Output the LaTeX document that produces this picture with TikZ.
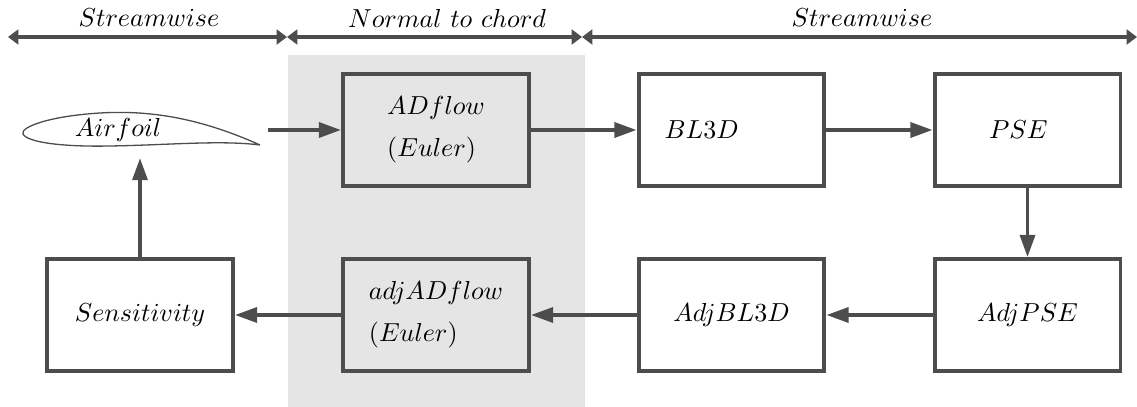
\documentclass[tikz,border=0pt]{standalone}
\usetikzlibrary{arrows.meta}
\definecolor{linegray}{RGB}{77,77,77}
\definecolor{bandgray}{RGB}{229,229,229}
\begin{document}
\begin{tikzpicture}[x=0.0135cm,y=-0.0135cm]
\tikzset{blockbox/.style={draw=linegray, line width=1.5pt, minimum width=2.51cm, minimum height=1.51cm, inner sep=0pt, align=left},
flowarrow/.style={draw=linegray, line width=1.5pt, -{Triangle[length=0.3cm,width=0.2cm]}},
spanarrow/.style={draw=linegray, line width=1.8pt, {Triangle[length=0.14cm,width=0.2cm]}-{Triangle[length=0.14cm,width=0.2cm]}}}
\useasboundingbox (0,0) rectangle (1137,407);
\fill [bandgray] (288,55) rectangle (585,407);
\coordinate (s0) at (8,37);
\coordinate (s1) at (287,37);
\coordinate (s2) at (582,37);
\coordinate (s3) at (1137,37);
\draw [spanarrow] (s0) -- (s1);
\draw [spanarrow] (s1) -- (s2);
\draw [spanarrow] (s2) -- (s3);
\node (streamleft) at (149,18) {$Streamwise$};
\node (normal) at (447,18) {$Normal\ to\ chord$};
\node (streamright) at (862,18) {$Streamwise$};
\draw [linegray, line width=0.5pt] (260,145) .. controls (200,118) and (150,110) .. (100,113) .. controls (50,116) and (20,127) .. (23,134) .. controls (27,142) and (60,147) .. (110,146) .. controls (170,145) and (220,140) .. (260,145);
\node (airfoil) at (118,130) {$Airfoil$};
\coordinate (foilout) at (268,130);
\coordinate (foilin) at (140,158);
\node [blockbox] (adflow) at (436,130) {$ADflow$\\[4pt]$(Euler)$};
\node [blockbox] (bl3d) at (731.5,130) {$BL3D$\hspace{2.3em}};
\node [blockbox] (pse) at (1027.5,130) {$PSE$\hspace{0.7em}};
\node [blockbox] (adjpse) at (1027.5,315) {$AdjPSE$};
\node [blockbox] (adjbl3d) at (731.5,315) {$AdjBL3D$};
\node [blockbox] (adjadflow) at (436,315) {$adjADflow$\\[4pt]$(Euler)$};
\node [blockbox] (sens) at (140,315) {$Sensitivity$};
\draw [flowarrow] (foilout) -- (adflow);
\draw [flowarrow] (adflow) -- (bl3d);
\draw [flowarrow] (bl3d) -- (pse);
\draw [flowarrow] (pse) -- (adjpse);
\draw [flowarrow] (adjpse) -- (adjbl3d);
\draw [flowarrow] (adjbl3d) -- (adjadflow);
\draw [flowarrow] (adjadflow) -- (sens);
\draw [flowarrow] (sens) -- (foilin);
\end{tikzpicture}
\end{document}
